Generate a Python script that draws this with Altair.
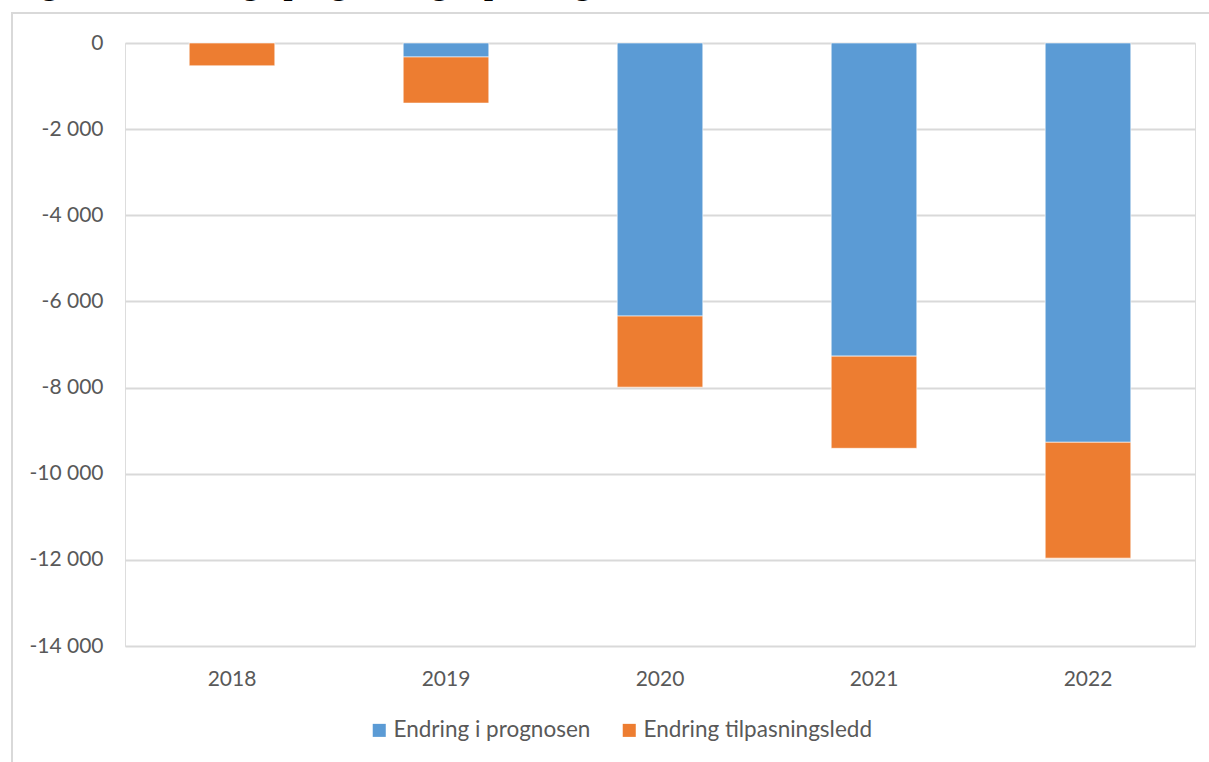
import altair as alt
import pandas as pd

years = ["2018", "2019", "2020", "2021", "2022"]
series = ["Endring i prognosen", "Endring tilpasningsledd"]
prognose = [0, -325, -6340, -7270, -9270]
tilpasning = [-530, -1070, -1650, -2140, -2690]
colors = ["#5B9BD5", "#ED7D31"]
title_text = "Figur 4.3 Endring i prognose og tilpasningsledd"

rows = []
for i, y in enumerate(years):
    rows.append({"year": y, "serie": series[0], "value": prognose[i], "ord": 0})
    rows.append({"year": y, "serie": series[1], "value": tilpasning[i], "ord": 1})
df = pd.DataFrame(rows)

FONT = "Lato"
GRAY = "#595959"

bars = alt.Chart(df).mark_bar(stroke="white", strokeWidth=0.6).encode(
    x=alt.X("year:N", title=None, sort=years,
            scale=alt.Scale(paddingInner=0.6, paddingOuter=0.3),
            axis=alt.Axis(labelAngle=0, domain=False, ticks=False, labelPadding=22,
                          labelFontSize=21, labelColor=GRAY, labelFont=FONT, grid=False)),
    y=alt.Y("value:Q", title=None, stack="zero",
            scale=alt.Scale(domain=[-14000, 0], nice=False),
            axis=alt.Axis(values=list(range(-14000, 1, 2000)), domain=False, ticks=False,
                          labelPadding=22, labelFontSize=21, labelColor=GRAY, labelFont=FONT,
                          gridColor="#d9d9d9", gridWidth=2,
                          labelExpr="datum.value == 0 ? '0' : '-' + replace(format(abs(datum.value), ','), ',', ' ')")),
    color=alt.Color("serie:N", sort=series,
                    scale=alt.Scale(domain=series, range=colors),
                    legend=alt.Legend(title=None, orient="none", direction="horizontal",
                                      legendX=243, legendY=676, labelLimit=0,
                                      symbolType="square", symbolSize=170, symbolStrokeWidth=0,
                                      labelFontSize=22.5, labelColor=GRAY, labelFont=FONT,
                                      labelOffset=3, columnPadding=27)),
    order=alt.Order("ord:Q", sort="ascending"),
)

frame = alt.Chart(pd.DataFrame({"a": [0]})).mark_rect(
    fill=None, filled=False, stroke="#d9d9d9", strokeWidth=2
).encode(x=alt.value(-113), x2=alt.value(1200), y=alt.value(-30), y2=alt.value(800))

title = alt.Chart(pd.DataFrame({"t": [title_text]})).mark_text(
    align="left", baseline="alphabetic", font="Liberation Serif", fontWeight="bold",
    fontSize=32, color="black"
).encode(text="t:N", x=alt.value(-112), y=alt.value(-49.5))

chart = alt.layer(frame, bars, title).properties(
    width=1070, height=603,
    autosize=alt.AutoSizeParams(type="none"),
    padding={"left": 125, "top": 43, "right": 14, "bottom": 116},
).configure_view(stroke=None).configure(background="white")

chart.save("out.html", embed_options={"renderer": "svg", "actions": False})
